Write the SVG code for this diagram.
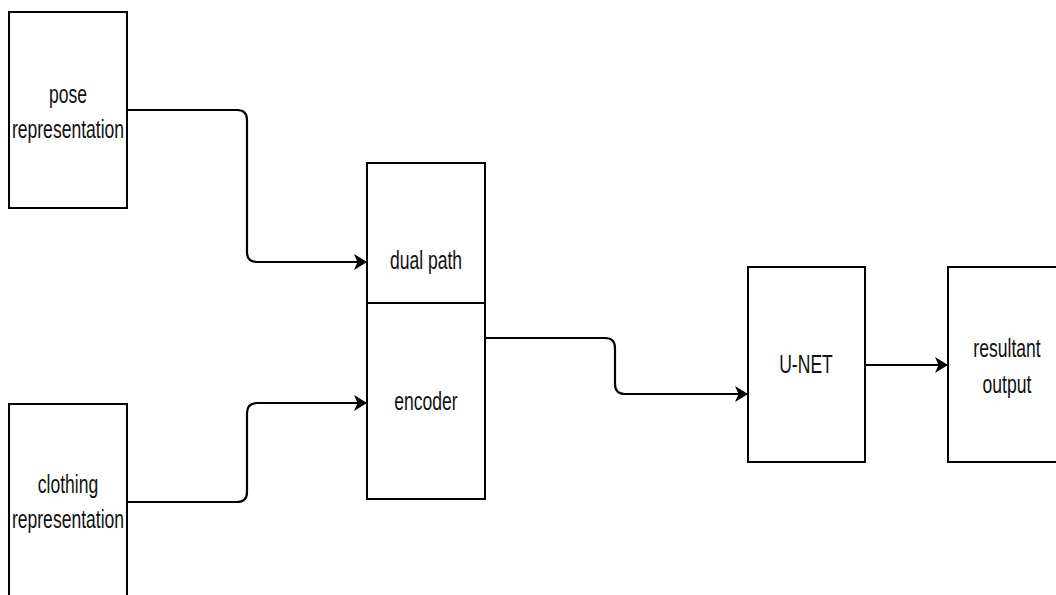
<svg xmlns="http://www.w3.org/2000/svg" width="1056" height="595" viewBox="0 0 1056 595">
<style>
.box{fill:#fff;stroke:#000;stroke-width:2}
.lbl{font-family:"Liberation Sans",Arial,sans-serif;font-size:26px;fill:#111;text-anchor:middle}
.conn{fill:none;stroke:#000;stroke-width:2.2}
</style>
<defs>
<marker id="arr" markerUnits="userSpaceOnUse" markerWidth="16" markerHeight="18" refX="13" refY="8" orient="auto">
<path d="M0,0 L13,8 L0,16 L3.5,8 Z" fill="#000"/>
</marker>
</defs>
<rect width="1056" height="595" fill="#fff"/>
<g id="connectors">
<path class="conn" d="M127,110 H237 Q247,110 247,120 V252 Q247,262 257,262 H367" marker-end="url(#arr)"/>
<path class="conn" d="M127,502 H237 Q247,502 247,492 V413 Q247,403 257,403 H367" marker-end="url(#arr)"/>
<path class="conn" d="M485,338 H605 Q615,338 615,348 V384 Q615,394 625,394 H748" marker-end="url(#arr)"/>
<path class="conn" d="M865,365 H948" marker-end="url(#arr)"/>
</g>
<g id="pose">
<rect class="box" x="9" y="12" width="118" height="196"/>
<text class="lbl" transform="translate(68,103) scale(0.675,1)">pose</text>
<text class="lbl" transform="translate(68,138) scale(0.675,1)">representation</text>
</g>
<g id="clothing">
<rect class="box" x="9" y="404" width="118" height="200"/>
<text class="lbl" transform="translate(68,493) scale(0.675,1)">clothing</text>
<text class="lbl" transform="translate(68,528) scale(0.675,1)">representation</text>
</g>
<g id="dualpath">
<rect class="box" x="367" y="163" width="118" height="140"/>
<text class="lbl" transform="translate(426,269) scale(0.675,1)">dual path</text>
</g>
<g id="encoder">
<rect class="box" x="367" y="303" width="118" height="196"/>
<text class="lbl" transform="translate(426,410) scale(0.675,1)">encoder</text>
</g>
<g id="unet">
<rect class="box" x="748" y="267" width="117" height="195"/>
<text class="lbl" transform="translate(806,373) scale(0.675,1)">U-NET</text>
</g>
<g id="resultant">
<rect class="box" x="948" y="267" width="120" height="195"/>
<text class="lbl" transform="translate(1007,357) scale(0.675,1)">resultant</text>
<text class="lbl" transform="translate(1007,393) scale(0.675,1)">output</text>
</g>
</svg>
